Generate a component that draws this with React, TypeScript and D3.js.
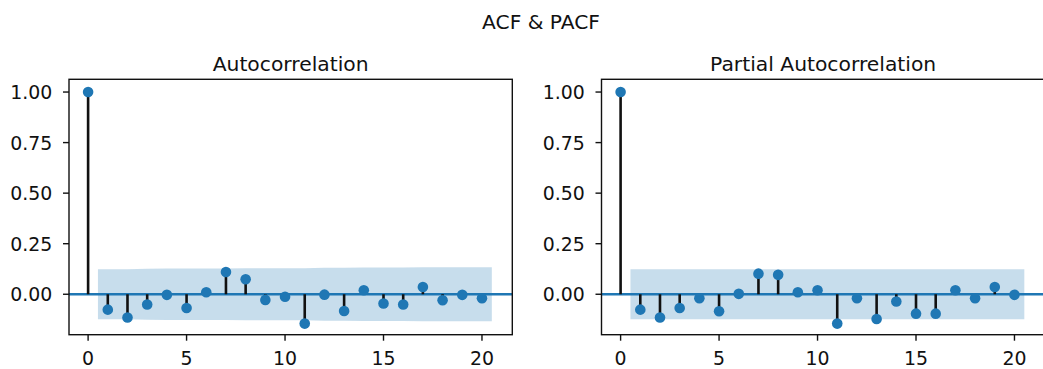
import React from "react";
import * as d3 from "d3";

const lags = [0, 1, 2, 3, 4, 5, 6, 7, 8, 9, 10, 11, 12, 13, 14, 15, 16, 17, 18, 19, 20];
const acfValues = [1.0, -0.076, -0.115, -0.051, -0.003, -0.068, 0.01, 0.11, 0.074, -0.028, -0.012,
  -0.145, -0.002, -0.083, 0.02, -0.046, -0.051, 0.036, -0.03, -0.003, -0.02];
const pacfValues = [1.0, -0.076, -0.115, -0.068, -0.02, -0.084, 0.002, 0.102, 0.096, 0.01, 0.02,
  -0.145, -0.02, -0.122, -0.036, -0.096, -0.096, 0.02, -0.02, 0.036, -0.003];
// confidence band half-widths for lags 1..20
const acfBand = [0.124, 0.124, 0.126, 0.127, 0.127, 0.127, 0.127, 0.128, 0.129, 0.129, 0.129,
  0.131, 0.131, 0.132, 0.132, 0.132, 0.133, 0.133, 0.133, 0.133];
const pacfBand = [0.124, 0.124, 0.124, 0.124, 0.124, 0.124, 0.124, 0.124, 0.124, 0.124, 0.124,
  0.124, 0.124, 0.124, 0.124, 0.124, 0.124, 0.124, 0.124, 0.124];
const xTicks = [0, 5, 10, 15, 20];
const yTicks = [0, 0.25, 0.5, 0.75, 1.0];
const panelTitles = ["Autocorrelation", "Partial Autocorrelation"];
const figTitle = "ACF & PACF";

const BLUE = "#1f77b4";
const FONT = "DejaVu Sans";
const TEXT = "#111";

type PanelProps = { left: number; right: number; values: number[]; band: number[]; title: string };

function Panel({ left, right, values, band, title }: PanelProps) {
  const top = 79.3;
  const bottom = 334.7;
  const x = d3.scaleLinear().domain([-0.97, 21.54]).range([left, right]);
  const y = d3.scaleLinear().domain([-0.2, 1.063]).range([bottom, top]);
  const bandLags = lags.slice(1).map((l, i, arr) => (i === 0 ? l - 0.5 : i === arr.length - 1 ? l + 0.5 : l));
  const area = d3
    .area<number>()
    .x((_, i) => x(bandLags[i]))
    .y0((d) => y(-d))
    .y1((d) => y(d));
  const clipId = "clip" + Math.round(left);
  return (
    <g>
      <defs>
        <clipPath id={clipId}>
          <rect x={left} y={top} width={right - left} height={bottom - top} />
        </clipPath>
      </defs>
      <g clipPath={`url(#${clipId})`}>
        <path d={area(band) || ""} fill={BLUE} fillOpacity={0.25} />
        <line x1={left} x2={right} y1={y(0)} y2={y(0)} stroke={BLUE} strokeWidth={2.6} />
        {lags.map((l, i) => (
          <line key={"s" + l} x1={x(l)} x2={x(l)} y1={y(0)} y2={y(values[i])} stroke="#111" strokeWidth={2.6} />
        ))}
        {lags.map((l, i) => (
          <circle key={"c" + l} cx={x(l)} cy={y(values[i])} r={5.3} fill={BLUE} />
        ))}
      </g>
      <rect x={left} y={top} width={right - left} height={bottom - top} fill="none" stroke="#111" strokeWidth={1.4} />
      {yTicks.map((t) => (
        <g key={"y" + t}>
          <line x1={left - 6} x2={left} y1={y(t)} y2={y(t)} stroke="#111" strokeWidth={1.4} />
          <text x={left - 16.7} y={y(t)} dy="0.37em" textAnchor="end" fontFamily={FONT} fontSize={18.9} fill={TEXT}>
            {t.toFixed(2)}
          </text>
        </g>
      ))}
      {xTicks.map((t) => (
        <g key={"x" + t}>
          <line x1={x(t)} x2={x(t)} y1={bottom} y2={bottom + 6} stroke="#111" strokeWidth={1.4} />
          <text x={x(t)} y={364.5} textAnchor="middle" fontFamily={FONT} fontSize={18.9} fill={TEXT}>
            {t}
          </text>
        </g>
      ))}
      <text x={(left + right) / 2} y={71} textAnchor="middle" fontFamily={FONT} fontSize={20.3} fill={TEXT}>
        {title}
      </text>
    </g>
  );
}

export default function App() {
  return (
    <svg
      width={1043}
      height={369}
      style={{ position: "absolute", left: 0, top: 0, background: "#fff" }}
    >
      <rect x={0} y={0} width={1043} height={369} fill="#fff" />
      <text x={541} y={29} textAnchor="middle" fontFamily={FONT} fontSize={20.2} fill={TEXT}>
        {figTitle}
      </text>
      <Panel left={69} right={512.3} values={acfValues} band={acfBand} title={panelTitles[0]} />
      <Panel left={601.5} right={1044.8} values={pacfValues} band={pacfBand} title={panelTitles[1]} />
    </svg>
  );
}
